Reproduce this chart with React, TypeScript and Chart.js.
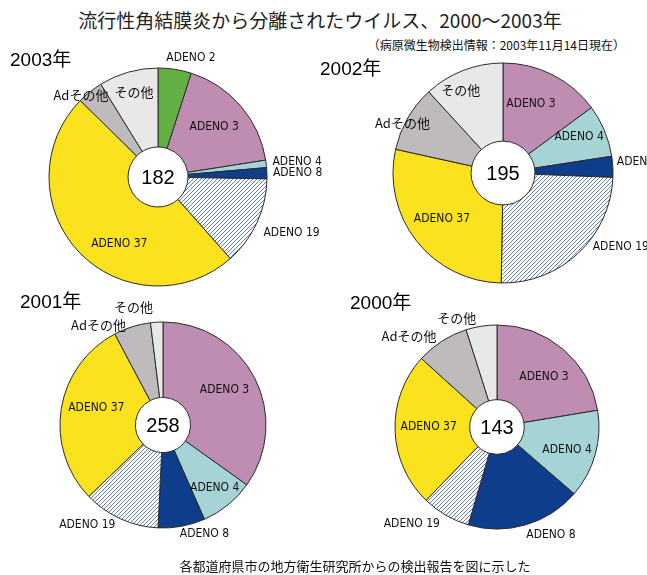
import React, { useEffect, useRef } from "react";
import { Chart, registerables } from "chart.js";

Chart.register(...registerables);

// ---- data ----
const years2003 = ["ADENO 2", "ADENO 3", "ADENO 4", "ADENO 8", "ADENO 19", "ADENO 37", "Adその他", "その他"];
const values2003 = [9, 32, 2, 3, 24, 89, 7, 16];
const years2002 = ["ADENO 3", "ADENO 4", "ADENO", "ADENO 19", "ADENO 37", "Adその他", "その他"];
const values2002 = [29, 15, 6, 48, 55, 19, 23];
const years2001 = ["ADENO 3", "ADENO 4", "ADENO 8", "ADENO 19", "ADENO 37", "Adその他", "その他"];
const values2001 = [90, 22, 19, 31, 76, 15, 5];
const years2000 = ["ADENO 3", "ADENO 4", "ADENO 8", "ADENO 19", "ADENO 37", "Adその他", "その他"];
const values2000 = [32, 20, 26, 11, 35, 12, 7];
const totals = ["182", "195", "258", "143"];
const yearTitles = ["2003年", "2002年", "2001年", "2000年"];

// ---- styles ----
const COLORS: Record<string, string> = {
  "ADENO 2": "#62B043",
  "ADENO 3": "#BF8CB2",
  "ADENO 4": "#A6D3D5",
  "ADENO 8": "#0E3D8B",
  "ADENO": "#0E3D8B",
  "ADENO 37": "#FAE21E",
  "Adその他": "#BFBABC",
  "その他": "#E8E8E8",
};

function hatch(): CanvasPattern | string {
  const c = document.createElement("canvas");
  c.width = 4;
  c.height = 4;
  const g = c.getContext("2d");
  if (!g) return "#cfd8ea";
  g.fillStyle = "#ffffff";
  g.fillRect(0, 0, 4, 4);
  g.strokeStyle = "#6482BE";
  g.lineWidth = 1;
  g.beginPath();
  g.moveTo(0, 4);
  g.lineTo(4, 0);
  g.moveTo(-1, 1);
  g.lineTo(1, -1);
  g.moveTo(3, 5);
  g.lineTo(5, 3);
  g.stroke();
  return g.createPattern(c, "repeat") || "#cfd8ea";
}

// label placement: [angle delta (deg), radius factor, align]
type LP = [number, number, CanvasTextAlign];
const place2003: LP[] = [[6.5, 1.14, "center"], [-2, 0.7, "center"], [-1, 1.06, "left"], [-0.6, 1.055, "left"], [2.7, 1.09, "left"], [-16, 0.7, "center"], [-4.8, 1.03, "center"], [0, 0.81, "center"]];
const place2002: LP[] = [[-5, 0.685, "center"], [-3.4, 0.77, "center"], [-2.8, 1.04, "left"], [-7.6, 1.05, "left"], [1.9, 0.69, "center"], [-3.7, 1.02, "center"], [-5.6, 0.85, "center"]];
const place2001: LP[] = [[-2.9, 0.69, "center"], [-1, 0.78, "center"], [-10.6, 1.12, "center"], [13, 1.21, "center"], [5.9, 0.67, "center"], [-15.4, 1.155, "center"], [-10.6, 1.18, "center"]];
const place2000: LP[] = [[2.4, 0.68, "center"], [1.7, 0.72, "center"], [-10.4, 1.175, "center"], [11.3, 1.26, "center"], [2.7, 0.67, "center"], [-11.3, 1.24, "center"], [-11.4, 1.14, "center"]];

const LATIN = '"Liberation Sans Narrow", "DejaVu Sans Condensed", "Liberation Sans", sans-serif';
const JP = '"Noto Sans CJK JP", sans-serif';

interface PieProps {
  labels: string[];
  values: number[];
  total: string;
  place: LP[];
  cx: number;
  cy: number;
  radius: number;
  hole: number;
}

const W = 360;
const H = 270;

function Pie({ labels, values, total, place, cx, cy, radius, hole }: PieProps) {
  const ref = useRef<HTMLCanvasElement | null>(null);
  useEffect(() => {
    if (!ref.current) return;
    const pat = hatch();
    const bg = labels.map((l) => (l === "ADENO 19" ? pat : COLORS[l]));
    const labelPlugin = {
      id: "sliceLabels",
      afterDatasetsDraw(chart: any) {
        const ctx = chart.ctx as CanvasRenderingContext2D;
        const meta = chart.getDatasetMeta(0);
        ctx.save();
        ctx.textBaseline = "middle";
        meta.data.forEach((arc: any, i: number) => {
          const p = arc.getProps(["x", "y", "startAngle", "endAngle", "outerRadius"], true);
          const [da, f, align] = place[i];
          const a = (p.startAngle + p.endAngle) / 2 + (da * Math.PI) / 180;
          const x = p.x + Math.cos(a) * p.outerRadius * f;
          const y = p.y + Math.sin(a) * p.outerRadius * f;
          const txt = labels[i];
          const isJP = /[^\x00-\x7f]/.test(txt);
          ctx.font = isJP ? `13px ${JP}` : `12px ${LATIN}`;
          ctx.fillStyle = "#111";
          ctx.textAlign = align;
          ctx.fillText(txt, x, y + (isJP ? 0 : 1));
        });
        const a0 = meta.data[0];
        if (a0) {
          ctx.font = `20px "Liberation Sans", sans-serif`;
          ctx.textAlign = "center";
          ctx.fillStyle = "#000";
          ctx.fillText(total, a0.x, a0.y + 1);
        }
        ctx.restore();
      },
    };
    const chart = new Chart(ref.current, {
      type: "doughnut",
      data: {
        labels,
        datasets: [
          {
            data: values,
            backgroundColor: bg as any,
            borderColor: "#2b2b2b",
            borderWidth: 1,
          },
        ],
      },
      options: {
        responsive: false,
        animation: false,
        devicePixelRatio: 1,
        radius,
        cutout: hole,
        plugins: { legend: { display: false }, tooltip: { enabled: false } },
        events: [],
      } as any,
      plugins: [labelPlugin],
    });
    return () => chart.destroy();
  }, []);
  return (
    <canvas
      ref={ref}
      width={W}
      height={H}
      style={{ position: "absolute", left: cx - W / 2, top: cy - H / 2, width: W, height: H }}
    />
  );
}

const yearStyle = (left: number, top: number): React.CSSProperties => ({
  position: "absolute",
  left,
  top,
  fontFamily: `"Liberation Sans", ${JP}`,
  fontSize: 19,
  lineHeight: "20px",
  color: "#000",
  whiteSpace: "nowrap",
});

export default function App() {
  return (
    <div
      style={{
        position: "absolute",
        left: 0,
        top: 0,
        width: 647,
        height: 575,
        overflow: "hidden",
        background: "#fff",
      }}
    >
      <div
        style={{
          position: "absolute",
          left: 0,
          top: 10,
          width: 640,
          textAlign: "center",
          fontFamily: JP,
          fontSize: 19,
          lineHeight: "20px",
          color: "#222",
          whiteSpace: "nowrap",
        }}
      >
        流行性角結膜炎から分離されたウイルス、2000〜2003年
      </div>
      <div
        style={{
          position: "absolute",
          right: 22,
          top: 38,
          fontFamily: JP,
          fontSize: 12,
          lineHeight: "14px",
          color: "#111",
          whiteSpace: "nowrap",
        }}
      >
        （病原微生物検出情報：2003年11月14日現在）
      </div>
      <Pie labels={years2003} values={values2003} total={totals[0]} place={place2003} cx={158} cy={177} radius={109} hole={37} />
      <Pie labels={years2002} values={values2002} total={totals[1]} place={place2002} cx={503} cy={173} radius={110} hole={39} />
      <Pie labels={years2001} values={values2001} total={totals[2]} place={place2001} cx={163} cy={425} radius={103} hole={36} />
      <Pie labels={years2000} values={values2000} total={totals[3]} place={place2000} cx={497} cy={427} radius={102} hole={36} />
      <div style={yearStyle(10, 50)}>{yearTitles[0]}</div>
      <div style={yearStyle(320, 59)}>{yearTitles[1]}</div>
      <div style={yearStyle(20, 292)}>{yearTitles[2]}</div>
      <div style={yearStyle(350, 293)}>{yearTitles[3]}</div>
      <div
        style={{
          position: "absolute",
          left: 0,
          top: 558,
          width: 710,
          textAlign: "center",
          fontFamily: JP,
          fontSize: 13,
          lineHeight: "15px",
          color: "#111",
          whiteSpace: "nowrap",
        }}
      >
        各都道府県市の地方衛生研究所からの検出報告を図に示した
      </div>
    </div>
  );
}
